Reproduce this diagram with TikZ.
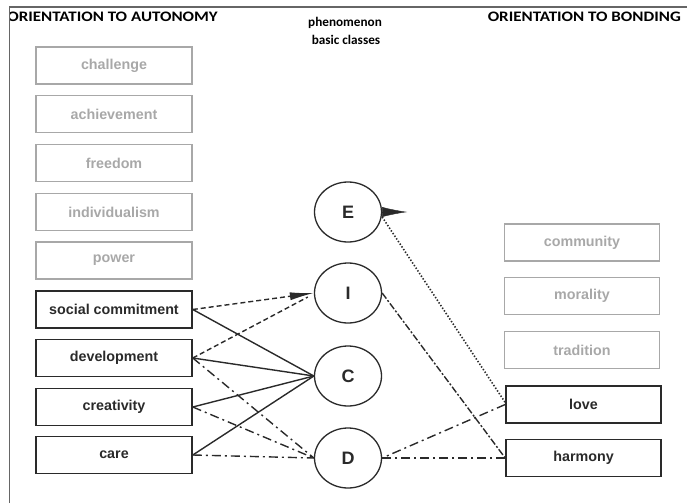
\documentclass[tikz,border=0pt]{standalone}
\usepackage{fontspec}
\setmainfont{Carlito}
\newfontfamily\headfont[FakeStretch=1.17]{Carlito}
\newfontfamily\boxfont{Liberation Sans}
\usetikzlibrary{arrows.meta,shapes.geometric}
\definecolor{ink}{HTML}{2A2A2A}
\definecolor{faint}{HTML}{A8A8A8}
\definecolor{framec}{HTML}{666666}
\begin{document}
\begin{tikzpicture}[x=1pt,y=-1pt,
 valbox/.style={draw=ink, line width=1.6pt, minimum width=156pt, minimum height=37pt, inner sep=0pt, font=\boxfont\bfseries\fontsize{14.3}{16}\selectfont, text=ink},
 greybox/.style={valbox, draw=faint, text=faint, line width=1.4pt},
 cls/.style={ellipse, draw=ink, line width=1.3pt, minimum width=67pt, minimum height=60pt, inner sep=0pt, font=\boxfont\bfseries\fontsize{18}{20}\selectfont, text=ink},
 head/.style={font=\headfont\bfseries\fontsize{14.5}{16}\selectfont, text=black, inner sep=0pt},
 subhead/.style={font=\bfseries\fontsize{13.2}{15}\selectfont, text=black, inner sep=0pt},
 solidlink/.style={draw=ink, line width=1.4pt},
 dashlink/.style={draw=ink, line width=1.4pt, dash pattern=on 5pt off 3pt},
 dotlink/.style={draw=ink, line width=1.6pt, dash pattern=on 1.4pt off 1.8pt},
 dashdotlink/.style={draw=ink, line width=1.4pt, dash pattern=on 9pt off 4pt on 2pt off 4pt},
 densedash/.style={draw=ink, line width=1.4pt, dash pattern=on 7pt off 2pt on 2pt off 2pt},
]
\useasboundingbox (0,0) rectangle (687,503);
% frame
\draw[framec, line width=1.5pt] (9.5,503) -- (9.5,7) -- (687,7);
% headers
\begin{scope}
\clip (10,0) rectangle (687,503);
\node[head, anchor=base east] (hauto) at (218,21.5) {ORIENTATION TO AUTONOMY};
\end{scope}
\node[head, anchor=base east] (hbond) at (681,21.5) {ORIENTATION TO BONDING};
\node[subhead, anchor=base] (hphen) at (345,27) {phenomenon};
\node[subhead, anchor=base] (hbasic) at (346,45) {basic classes};
% left boxes
\node[greybox] (challenge) at (114,65.5) {challenge};
\node[greybox] (achievement) at (114,114) {achievement};
\node[greybox] (freedom) at (114,163) {freedom};
\node[greybox] (individualism) at (114,212) {individualism};
\node[greybox] (power) at (114,260.5) {power};
\node[valbox] (social) at (114,309.5) {social commitment};
\node[valbox] (development) at (114,358) {development};
\node[valbox] (creativity) at (114,407) {creativity};
\node[valbox] (care) at (114,455) {care};
% classes
\node[cls] (E) at (348,212) {E};
\node[cls] (I) at (348,293) {I};
\node[cls] (C) at (348,376) {C};
\node[cls] (D) at (348,458) {D};
% right boxes
\node[greybox, minimum width=155pt] (community) at (582,242.5) {community};
\node[greybox, minimum width=155pt] (morality) at (582,296) {morality};
\node[greybox, minimum width=155pt] (tradition) at (582,350) {tradition};
\node[valbox, minimum width=155pt] (love) at (583.5,404.5) {love};
\node[valbox, minimum width=155pt] (harmony) at (583.5,458) {harmony};
% connectors to I
\draw[dashlink, -{Latex[length=24pt,width=8pt]}] (social.east) -- (I.west);
\draw[dashlink] (development.east) -- ([xshift=-6pt,yshift=-4pt]I.west);
% connectors to C
\draw[solidlink] (social.east) -- (C.west);
\draw[solidlink] (development.east) -- (C.west);
\draw[solidlink] (creativity.east) -- (C.west);
\draw[solidlink] (care.east) -- (C.west);
% connectors to D
\draw[dashdotlink] (development.east) -- (D.west);
\draw[dashdotlink] (creativity.east) -- (D.west);
\draw[dashdotlink] (care.east) -- (D.west);
\draw[dashdotlink] (love.west) -- (D.east);
\draw[dashdotlink] (harmony.west) -- (D.east);
% right side
\draw[densedash] (I.east) -- (harmony.west);
\draw[dotlink] ([yshift=-5pt]E.east) -- ([yshift=2pt]love.west);
\draw[ink, line width=0.4pt, -{Latex[length=25pt,width=10pt]}] (E.east) -- ++(25,0);
\end{tikzpicture}
\end{document}
